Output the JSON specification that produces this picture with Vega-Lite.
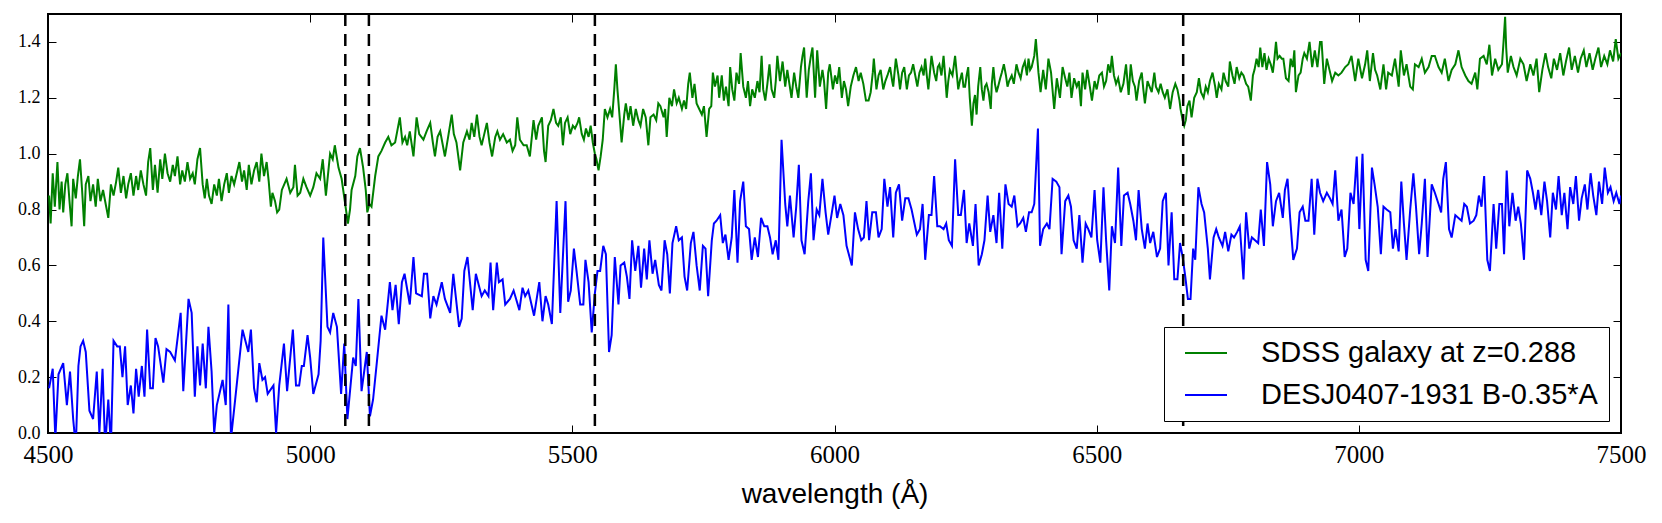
{
  "$schema": "https://vega.github.io/schema/vega-lite/v6.json",
  "width": 1573,
  "height": 419,
  "autosize": {"type": "none"},
  "padding": {"left": 48, "top": 14, "right": 41, "bottom": 90},
  "background": "white",
  "config": {
    "view": {"stroke": "black", "strokeWidth": 2},
    "axis": {"domain": false, "grid": false, "tickColor": "black", "tickWidth": 1, "tickSize": -8, "labelColor": "black", "labelFlush": false, "labelOverlap": false}
  },
  "datasets": {
    "sdss": [
      {"w":4502,"f":0.85},{"w":4505,"f":0.75},{"w":4509,"f":0.93},{"w":4513,"f":0.81},{"w":4518,"f":0.97},{"w":4522,"f":0.80},{"w":4526,"f":0.90},{"w":4529,"f":0.79},{"w":4533,"f":0.89},{"w":4537,"f":0.93},
      {"w":4541,"f":0.83},{"w":4545,"f":0.74},{"w":4548,"f":0.91},{"w":4553,"f":0.84},{"w":4557,"f":0.92},{"w":4561,"f":0.98},{"w":4565,"f":0.87},{"w":4569,"f":0.74},{"w":4572,"f":0.89},{"w":4577,"f":0.92},
      {"w":4581,"f":0.83},{"w":4586,"f":0.89},{"w":4591,"f":0.81},{"w":4595,"f":0.91},{"w":4600,"f":0.83},{"w":4605,"f":0.87},{"w":4611,"f":0.81},{"w":4615,"f":0.77},{"w":4620,"f":0.89},{"w":4625,"f":0.85},
      {"w":4630,"f":0.90},{"w":4634,"f":0.95},{"w":4639,"f":0.86},{"w":4644,"f":0.92},{"w":4649,"f":0.84},{"w":4653,"f":0.89},{"w":4658,"f":0.93},{"w":4663,"f":0.85},{"w":4668,"f":0.92},{"w":4672,"f":0.87},
      {"w":4677,"f":0.94},{"w":4682,"f":0.89},{"w":4687,"f":0.85},{"w":4691,"f":0.97},{"w":4695,"f":1.02},{"w":4700,"f":0.87},{"w":4704,"f":0.96},{"w":4709,"f":0.86},{"w":4714,"f":0.98},{"w":4718,"f":0.91},
      {"w":4723,"f":1.00},{"w":4728,"f":0.93},{"w":4733,"f":0.90},{"w":4738,"f":0.96},{"w":4742,"f":0.92},{"w":4747,"f":0.99},{"w":4752,"f":0.89},{"w":4756,"f":0.94},{"w":4761,"f":0.90},{"w":4766,"f":0.97},
      {"w":4771,"f":0.91},{"w":4776,"f":0.93},{"w":4780,"f":0.89},{"w":4785,"f":0.98},{"w":4790,"f":1.02},{"w":4795,"f":0.89},{"w":4799,"f":0.84},{"w":4803,"f":0.91},{"w":4807,"f":0.85},{"w":4812,"f":0.82},
      {"w":4817,"f":0.89},{"w":4822,"f":0.85},{"w":4826,"f":0.91},{"w":4831,"f":0.83},{"w":4836,"f":0.89},{"w":4841,"f":0.93},{"w":4845,"f":0.86},{"w":4850,"f":0.92},{"w":4855,"f":0.89},{"w":4860,"f":0.93},
      {"w":4865,"f":0.97},{"w":4870,"f":0.90},{"w":4874,"f":0.94},{"w":4879,"f":0.87},{"w":4883,"f":0.96},{"w":4888,"f":0.89},{"w":4893,"f":0.94},{"w":4898,"f":0.97},{"w":4903,"f":0.90},{"w":4907,"f":1.00},
      {"w":4912,"f":0.92},{"w":4917,"f":0.97},{"w":4921,"f":0.90},{"w":4925,"f":0.81},{"w":4928,"f":0.86},{"w":4933,"f":0.83},{"w":4937,"f":0.79},{"w":4941,"f":0.80},{"w":4946,"f":0.87},{"w":4955,"f":0.91},
      {"w":4962,"f":0.86},{"w":4968,"f":0.88},{"w":4971,"f":0.96},{"w":4976,"f":0.85},{"w":4981,"f":0.86},{"w":4987,"f":0.91},{"w":4993,"f":0.88},{"w":5000,"f":0.85},{"w":5006,"f":0.88},{"w":5012,"f":0.93},
      {"w":5019,"f":0.91},{"w":5024,"f":0.98},{"w":5030,"f":0.85},{"w":5038,"f":1.00},{"w":5043,"f":0.98},{"w":5047,"f":1.03},{"w":5054,"f":0.95},{"w":5060,"f":0.91},{"w":5066,"f":0.83},{"w":5072,"f":0.75},
      {"w":5076,"f":0.80},{"w":5079,"f":0.87},{"w":5086,"f":0.92},{"w":5090,"f":0.99},{"w":5095,"f":1.02},{"w":5101,"f":0.95},{"w":5106,"f":0.87},{"w":5109,"f":0.79},{"w":5113,"f":0.82},{"w":5117,"f":0.81},
      {"w":5124,"f":0.92},{"w":5130,"f":0.99},{"w":5136,"f":1.01},{"w":5143,"f":1.04},{"w":5149,"f":1.06},{"w":5155,"f":1.03},{"w":5162,"f":1.04},{"w":5166,"f":1.08},{"w":5171,"f":1.13},{"w":5176,"f":1.04},
      {"w":5181,"f":1.06},{"w":5185,"f":1.03},{"w":5190,"f":1.08},{"w":5197,"f":0.99},{"w":5203,"f":1.13},{"w":5208,"f":1.07},{"w":5216,"f":1.05},{"w":5222,"f":1.08},{"w":5229,"f":1.11},{"w":5234,"f":1.04},
      {"w":5238,"f":0.99},{"w":5243,"f":1.06},{"w":5248,"f":1.08},{"w":5253,"f":1.03},{"w":5257,"f":0.99},{"w":5264,"f":1.07},{"w":5270,"f":1.14},{"w":5274,"f":1.07},{"w":5279,"f":1.04},{"w":5286,"f":0.94},
      {"w":5292,"f":1.04},{"w":5299,"f":1.08},{"w":5304,"f":1.05},{"w":5308,"f":1.11},{"w":5313,"f":1.06},{"w":5318,"f":1.14},{"w":5323,"f":1.06},{"w":5327,"f":1.03},{"w":5332,"f":1.07},{"w":5337,"f":1.11},
      {"w":5342,"f":1.04},{"w":5347,"f":0.99},{"w":5353,"f":1.06},{"w":5357,"f":1.08},{"w":5362,"f":1.05},{"w":5368,"f":1.07},{"w":5375,"f":1.04},{"w":5381,"f":1.05},{"w":5386,"f":1.01},{"w":5391,"f":1.03},
      {"w":5395,"f":1.13},{"w":5400,"f":1.05},{"w":5407,"f":1.03},{"w":5413,"f":1.03},{"w":5419,"f":0.99},{"w":5426,"f":1.12},{"w":5431,"f":1.05},{"w":5435,"f":1.10},{"w":5442,"f":1.13},{"w":5446,"f":1.01},
      {"w":5449,"f":0.97},{"w":5454,"f":1.10},{"w":5459,"f":1.12},{"w":5464,"f":1.16},{"w":5469,"f":1.11},{"w":5473,"f":1.10},{"w":5478,"f":1.13},{"w":5482,"f":1.03},{"w":5486,"f":1.11},{"w":5491,"f":1.13},
      {"w":5496,"f":1.07},{"w":5501,"f":1.10},{"w":5505,"f":1.09},{"w":5510,"f":1.11},{"w":5513,"f":1.13},{"w":5518,"f":1.07},{"w":5522,"f":1.05},{"w":5526,"f":1.09},{"w":5531,"f":1.06},{"w":5535,"f":1.10},
      {"w":5539,"f":1.04},{"w":5543,"f":1.00},{"w":5546,"f":0.98},{"w":5550,"f":0.94},{"w":5554,"f":0.99},{"w":5558,"f":1.05},{"w":5562,"f":1.16},{"w":5567,"f":1.13},{"w":5572,"f":1.16},{"w":5576,"f":1.13},
      {"w":5580,"f":1.23},{"w":5583,"f":1.32},{"w":5586,"f":1.23},{"w":5589,"f":1.16},{"w":5594,"f":1.04},{"w":5599,"f":1.14},{"w":5602,"f":1.18},{"w":5607,"f":1.12},{"w":5611,"f":1.17},{"w":5616,"f":1.10},
      {"w":5621,"f":1.16},{"w":5626,"f":1.12},{"w":5630,"f":1.10},{"w":5635,"f":1.16},{"w":5640,"f":1.13},{"w":5645,"f":1.03},{"w":5649,"f":1.13},{"w":5655,"f":1.14},{"w":5660,"f":1.12},{"w":5664,"f":1.18},
      {"w":5668,"f":1.17},{"w":5674,"f":1.13},{"w":5677,"f":1.16},{"w":5680,"f":1.06},{"w":5685,"f":1.20},{"w":5690,"f":1.17},{"w":5694,"f":1.23},{"w":5699,"f":1.18},{"w":5703,"f":1.20},{"w":5709,"f":1.16},
      {"w":5713,"f":1.19},{"w":5717,"f":1.16},{"w":5721,"f":1.25},{"w":5724,"f":1.29},{"w":5729,"f":1.20},{"w":5733,"f":1.25},{"w":5737,"f":1.18},{"w":5742,"f":1.16},{"w":5747,"f":1.14},{"w":5751,"f":1.17},
      {"w":5756,"f":1.06},{"w":5761,"f":1.16},{"w":5765,"f":1.17},{"w":5768,"f":1.29},{"w":5772,"f":1.24},{"w":5777,"f":1.28},{"w":5780,"f":1.20},{"w":5785,"f":1.28},{"w":5789,"f":1.19},{"w":5793,"f":1.24},
      {"w":5798,"f":1.17},{"w":5801,"f":1.31},{"w":5805,"f":1.23},{"w":5809,"f":1.19},{"w":5813,"f":1.29},{"w":5818,"f":1.25},{"w":5821,"f":1.36},{"w":5826,"f":1.24},{"w":5831,"f":1.20},{"w":5835,"f":1.26},
      {"w":5839,"f":1.17},{"w":5843,"f":1.23},{"w":5848,"f":1.20},{"w":5853,"f":1.26},{"w":5857,"f":1.22},{"w":5861,"f":1.35},{"w":5864,"f":1.23},{"w":5868,"f":1.19},{"w":5872,"f":1.25},{"w":5876,"f":1.32},
      {"w":5880,"f":1.23},{"w":5885,"f":1.20},{"w":5888,"f":1.26},{"w":5891,"f":1.35},{"w":5896,"f":1.26},{"w":5901,"f":1.33},{"w":5906,"f":1.24},{"w":5910,"f":1.30},{"w":5914,"f":1.25},{"w":5918,"f":1.20},
      {"w":5923,"f":1.29},{"w":5927,"f":1.24},{"w":5931,"f":1.20},{"w":5936,"f":1.31},{"w":5939,"f":1.35},{"w":5942,"f":1.38},{"w":5947,"f":1.20},{"w":5951,"f":1.30},{"w":5955,"f":1.35},{"w":5958,"f":1.38},
      {"w":5963,"f":1.20},{"w":5967,"f":1.37},{"w":5972,"f":1.24},{"w":5977,"f":1.30},{"w":5980,"f":1.26},{"w":5984,"f":1.16},{"w":5988,"f":1.29},{"w":5991,"f":1.32},{"w":5997,"f":1.23},{"w":6001,"f":1.28},
      {"w":6005,"f":1.25},{"w":6009,"f":1.31},{"w":6014,"f":1.20},{"w":6018,"f":1.26},{"w":6022,"f":1.23},{"w":6026,"f":1.17},{"w":6031,"f":1.24},{"w":6036,"f":1.28},{"w":6041,"f":1.31},{"w":6046,"f":1.26},
      {"w":6050,"f":1.29},{"w":6055,"f":1.25},{"w":6060,"f":1.19},{"w":6065,"f":1.19},{"w":6069,"f":1.22},{"w":6073,"f":1.29},{"w":6075,"f":1.34},{"w":6080,"f":1.23},{"w":6084,"f":1.28},{"w":6088,"f":1.30},
      {"w":6093,"f":1.23},{"w":6097,"f":1.26},{"w":6101,"f":1.28},{"w":6106,"f":1.31},{"w":6110,"f":1.26},{"w":6112,"f":1.24},{"w":6117,"f":1.34},{"w":6122,"f":1.28},{"w":6125,"f":1.23},{"w":6129,"f":1.29},
      {"w":6133,"f":1.31},{"w":6138,"f":1.23},{"w":6142,"f":1.28},{"w":6146,"f":1.29},{"w":6150,"f":1.32},{"w":6154,"f":1.28},{"w":6158,"f":1.24},{"w":6162,"f":1.29},{"w":6166,"f":1.31},{"w":6170,"f":1.28},
      {"w":6173,"f":1.34},{"w":6176,"f":1.28},{"w":6179,"f":1.23},{"w":6182,"f":1.29},{"w":6185,"f":1.35},{"w":6190,"f":1.29},{"w":6194,"f":1.26},{"w":6197,"f":1.31},{"w":6200,"f":1.32},{"w":6204,"f":1.28},
      {"w":6208,"f":1.35},{"w":6211,"f":1.28},{"w":6214,"f":1.20},{"w":6217,"f":1.26},{"w":6220,"f":1.30},{"w":6225,"f":1.28},{"w":6230,"f":1.35},{"w":6233,"f":1.29},{"w":6236,"f":1.23},{"w":6239,"f":1.26},
      {"w":6243,"f":1.29},{"w":6246,"f":1.24},{"w":6249,"f":1.24},{"w":6252,"f":1.28},{"w":6255,"f":1.31},{"w":6258,"f":1.20},{"w":6262,"f":1.10},{"w":6265,"f":1.18},{"w":6268,"f":1.21},{"w":6271,"f":1.14},
      {"w":6274,"f":1.24},{"w":6278,"f":1.31},{"w":6281,"f":1.23},{"w":6284,"f":1.19},{"w":6287,"f":1.24},{"w":6290,"f":1.25},{"w":6294,"f":1.22},{"w":6298,"f":1.16},{"w":6300,"f":1.25},{"w":6303,"f":1.31},
      {"w":6306,"f":1.25},{"w":6309,"f":1.22},{"w":6312,"f":1.24},{"w":6316,"f":1.27},{"w":6319,"f":1.29},{"w":6323,"f":1.32},{"w":6327,"f":1.28},{"w":6330,"f":1.24},{"w":6333,"f":1.26},{"w":6338,"f":1.28},
      {"w":6342,"f":1.25},{"w":6347,"f":1.32},{"w":6351,"f":1.29},{"w":6355,"f":1.27},{"w":6359,"f":1.31},{"w":6363,"f":1.33},{"w":6367,"f":1.28},{"w":6370,"f":1.34},{"w":6373,"f":1.30},{"w":6376,"f":1.31},
      {"w":6381,"f":1.35},{"w":6384,"f":1.41},{"w":6389,"f":1.29},{"w":6393,"f":1.22},{"w":6398,"f":1.30},{"w":6403,"f":1.23},{"w":6408,"f":1.34},{"w":6413,"f":1.29},{"w":6419,"f":1.16},{"w":6424,"f":1.27},
      {"w":6430,"f":1.20},{"w":6435,"f":1.31},{"w":6440,"f":1.27},{"w":6444,"f":1.24},{"w":6448,"f":1.29},{"w":6452,"f":1.20},{"w":6457,"f":1.27},{"w":6462,"f":1.24},{"w":6466,"f":1.26},{"w":6470,"f":1.17},
      {"w":6473,"f":1.29},{"w":6478,"f":1.23},{"w":6482,"f":1.30},{"w":6487,"f":1.24},{"w":6491,"f":1.19},{"w":6496,"f":1.26},{"w":6500,"f":1.23},{"w":6505,"f":1.28},{"w":6510,"f":1.29},{"w":6514,"f":1.24},
      {"w":6518,"f":1.26},{"w":6522,"f":1.32},{"w":6526,"f":1.29},{"w":6529,"f":1.35},{"w":6533,"f":1.28},{"w":6537,"f":1.25},{"w":6541,"f":1.27},{"w":6546,"f":1.22},{"w":6551,"f":1.25},{"w":6556,"f":1.32},
      {"w":6561,"f":1.21},{"w":6565,"f":1.32},{"w":6569,"f":1.26},{"w":6573,"f":1.24},{"w":6576,"f":1.19},{"w":6581,"f":1.26},{"w":6586,"f":1.29},{"w":6589,"f":1.23},{"w":6592,"f":1.18},{"w":6597,"f":1.26},
      {"w":6601,"f":1.24},{"w":6605,"f":1.22},{"w":6610,"f":1.29},{"w":6613,"f":1.24},{"w":6618,"f":1.22},{"w":6622,"f":1.25},{"w":6626,"f":1.22},{"w":6630,"f":1.20},{"w":6635,"f":1.23},{"w":6640,"f":1.16},
      {"w":6645,"f":1.22},{"w":6650,"f":1.25},{"w":6654,"f":1.23},{"w":6658,"f":1.19},{"w":6660,"f":1.16},{"w":6664,"f":1.12},{"w":6667,"f":1.10},{"w":6670,"f":1.12},{"w":6673,"f":1.17},{"w":6677,"f":1.19},
      {"w":6681,"f":1.13},{"w":6686,"f":1.20},{"w":6691,"f":1.22},{"w":6695,"f":1.27},{"w":6699,"f":1.22},{"w":6704,"f":1.20},{"w":6708,"f":1.24},{"w":6712,"f":1.22},{"w":6716,"f":1.26},{"w":6721,"f":1.29},
      {"w":6726,"f":1.24},{"w":6729,"f":1.20},{"w":6733,"f":1.25},{"w":6738,"f":1.23},{"w":6742,"f":1.29},{"w":6746,"f":1.26},{"w":6751,"f":1.24},{"w":6754,"f":1.33},{"w":6759,"f":1.28},{"w":6763,"f":1.25},
      {"w":6767,"f":1.31},{"w":6772,"f":1.27},{"w":6776,"f":1.29},{"w":6780,"f":1.28},{"w":6785,"f":1.25},{"w":6789,"f":1.24},{"w":6794,"f":1.19},{"w":6798,"f":1.28},{"w":6801,"f":1.30},{"w":6805,"f":1.34},
      {"w":6809,"f":1.31},{"w":6812,"f":1.38},{"w":6816,"f":1.31},{"w":6820,"f":1.36},{"w":6824,"f":1.30},{"w":6828,"f":1.34},{"w":6832,"f":1.32},{"w":6836,"f":1.29},{"w":6839,"f":1.34},{"w":6842,"f":1.40},
      {"w":6845,"f":1.34},{"w":6849,"f":1.35},{"w":6853,"f":1.34},{"w":6856,"f":1.34},{"w":6861,"f":1.27},{"w":6866,"f":1.26},{"w":6870,"f":1.34},{"w":6874,"f":1.31},{"w":6877,"f":1.37},{"w":6880,"f":1.22},
      {"w":6885,"f":1.28},{"w":6889,"f":1.29},{"w":6893,"f":1.34},{"w":6896,"f":1.36},{"w":6901,"f":1.34},{"w":6906,"f":1.40},{"w":6911,"f":1.31},{"w":6916,"f":1.37},{"w":6921,"f":1.31},{"w":6926,"f":1.40},
      {"w":6929,"f":1.40},{"w":6934,"f":1.25},{"w":6939,"f":1.34},{"w":6944,"f":1.30},{"w":6949,"f":1.26},{"w":6955,"f":1.29},{"w":6961,"f":1.28},{"w":6967,"f":1.29},{"w":6974,"f":1.31},{"w":6980,"f":1.32},
      {"w":6986,"f":1.35},{"w":6993,"f":1.26},{"w":6999,"f":1.34},{"w":7006,"f":1.27},{"w":7012,"f":1.32},{"w":7016,"f":1.37},{"w":7021,"f":1.26},{"w":7027,"f":1.36},{"w":7031,"f":1.30},{"w":7035,"f":1.28},
      {"w":7041,"f":1.23},{"w":7047,"f":1.32},{"w":7052,"f":1.23},{"w":7056,"f":1.29},{"w":7063,"f":1.28},{"w":7069,"f":1.34},{"w":7076,"f":1.24},{"w":7080,"f":1.37},{"w":7086,"f":1.28},{"w":7091,"f":1.32},
      {"w":7098,"f":1.24},{"w":7103,"f":1.23},{"w":7107,"f":1.32},{"w":7114,"f":1.31},{"w":7120,"f":1.34},{"w":7126,"f":1.29},{"w":7133,"f":1.31},{"w":7139,"f":1.35},{"w":7145,"f":1.35},{"w":7152,"f":1.31},
      {"w":7158,"f":1.29},{"w":7164,"f":1.34},{"w":7171,"f":1.26},{"w":7177,"f":1.30},{"w":7184,"f":1.32},{"w":7190,"f":1.37},{"w":7196,"f":1.31},{"w":7203,"f":1.28},{"w":7209,"f":1.26},{"w":7215,"f":1.25},
      {"w":7222,"f":1.29},{"w":7226,"f":1.23},{"w":7231,"f":1.34},{"w":7238,"f":1.35},{"w":7244,"f":1.32},{"w":7249,"f":1.39},{"w":7254,"f":1.28},{"w":7260,"f":1.34},{"w":7266,"f":1.30},{"w":7273,"f":1.32},
      {"w":7276,"f":1.40},{"w":7279,"f":1.49},{"w":7281,"f":1.38},{"w":7284,"f":1.29},{"w":7290,"f":1.35},{"w":7295,"f":1.31},{"w":7301,"f":1.28},{"w":7308,"f":1.34},{"w":7314,"f":1.32},{"w":7320,"f":1.26},
      {"w":7327,"f":1.32},{"w":7333,"f":1.28},{"w":7339,"f":1.34},{"w":7344,"f":1.22},{"w":7350,"f":1.30},{"w":7356,"f":1.36},{"w":7361,"f":1.31},{"w":7367,"f":1.27},{"w":7372,"f":1.34},{"w":7378,"f":1.30},
      {"w":7384,"f":1.36},{"w":7390,"f":1.28},{"w":7395,"f":1.33},{"w":7401,"f":1.38},{"w":7406,"f":1.30},{"w":7412,"f":1.35},{"w":7418,"f":1.29},{"w":7423,"f":1.34},{"w":7429,"f":1.37},{"w":7434,"f":1.31},
      {"w":7440,"f":1.36},{"w":7446,"f":1.30},{"w":7451,"f":1.34},{"w":7457,"f":1.38},{"w":7462,"f":1.31},{"w":7468,"f":1.35},{"w":7474,"f":1.32},{"w":7479,"f":1.37},{"w":7485,"f":1.33},{"w":7490,"f":1.41},
      {"w":7495,"f":1.34},{"w":7500,"f":1.36}
    ],
    "des": [
      {"w":4502,"f":0.16},{"w":4509,"f":0.23},{"w":4514,"f":-0.02},{"w":4520,"f":0.21},{"w":4529,"f":0.25},{"w":4536,"f":0.10},{"w":4542,"f":0.22},{"w":4548,"f":0.05},{"w":4553,"f":-0.05},{"w":4558,"f":0.24},
      {"w":4562,"f":0.31},{"w":4567,"f":0.33},{"w":4572,"f":0.29},{"w":4579,"f":0.08},{"w":4586,"f":0.05},{"w":4593,"f":0.22},{"w":4598,"f":0.0},{"w":4604,"f":0.23},{"w":4609,"f":-0.05},{"w":4615,"f":0.12},
      {"w":4620,"f":-0.05},{"w":4625,"f":0.33},{"w":4632,"f":0.31},{"w":4637,"f":0.31},{"w":4642,"f":0.20},{"w":4647,"f":0.31},{"w":4652,"f":0.10},{"w":4658,"f":0.17},{"w":4663,"f":0.07},{"w":4668,"f":0.23},
      {"w":4673,"f":0.13},{"w":4679,"f":0.24},{"w":4684,"f":0.13},{"w":4689,"f":0.37},{"w":4695,"f":0.16},{"w":4700,"f":0.16},{"w":4705,"f":0.34},{"w":4710,"f":0.31},{"w":4720,"f":0.18},{"w":4726,"f":0.30},
      {"w":4733,"f":0.29},{"w":4742,"f":0.26},{"w":4753,"f":0.43},{"w":4758,"f":0.15},{"w":4768,"f":0.48},{"w":4774,"f":0.43},{"w":4780,"f":0.13},{"w":4785,"f":0.31},{"w":4790,"f":0.17},{"w":4795,"f":0.32},
      {"w":4801,"f":0.16},{"w":4806,"f":0.38},{"w":4812,"f":0.22},{"w":4817,"f":0.0},{"w":4822,"f":0.10},{"w":4833,"f":0.19},{"w":4839,"f":0.10},{"w":4844,"f":0.46},{"w":4849,"f":-0.02},{"w":4857,"f":0.12},
      {"w":4871,"f":0.37},{"w":4882,"f":0.29},{"w":4887,"f":0.37},{"w":4893,"f":0.16},{"w":4898,"f":0.11},{"w":4903,"f":0.25},{"w":4909,"f":0.19},{"w":4914,"f":0.20},{"w":4919,"f":0.14},{"w":4930,"f":0.17},
      {"w":4935,"f":0.0},{"w":4941,"f":0.17},{"w":4950,"f":0.32},{"w":4956,"f":0.15},{"w":4967,"f":0.37},{"w":4973,"f":0.17},{"w":4979,"f":0.17},{"w":4984,"f":0.24},{"w":4988,"f":0.24},{"w":4995,"f":0.35},
      {"w":5000,"f":0.27},{"w":5006,"f":0.14},{"w":5016,"f":0.21},{"w":5020,"f":0.33},{"w":5025,"f":0.70},{"w":5033,"f":0.38},{"w":5038,"f":0.36},{"w":5044,"f":0.43},{"w":5051,"f":0.38},{"w":5059,"f":0.14},
      {"w":5065,"f":0.32},{"w":5071,"f":0.05},{"w":5076,"f":0.15},{"w":5082,"f":0.27},{"w":5087,"f":0.24},{"w":5092,"f":0.48},{"w":5098,"f":0.15},{"w":5108,"f":0.29},{"w":5114,"f":0.06},{"w":5120,"f":0.12},
      {"w":5127,"f":0.25},{"w":5136,"f":0.42},{"w":5143,"f":0.37},{"w":5152,"f":0.54},{"w":5157,"f":0.44},{"w":5163,"f":0.53},{"w":5169,"f":0.39},{"w":5175,"f":0.54},{"w":5180,"f":0.57},{"w":5190,"f":0.46},
      {"w":5197,"f":0.63},{"w":5202,"f":0.50},{"w":5213,"f":0.49},{"w":5217,"f":0.57},{"w":5223,"f":0.57},{"w":5229,"f":0.41},{"w":5235,"f":0.49},{"w":5241,"f":0.46},{"w":5251,"f":0.54},{"w":5257,"f":0.48},
      {"w":5267,"f":0.43},{"w":5273,"f":0.57},{"w":5284,"f":0.38},{"w":5289,"f":0.41},{"w":5294,"f":0.58},{"w":5300,"f":0.63},{"w":5310,"f":0.44},{"w":5316,"f":0.57},{"w":5327,"f":0.49},{"w":5333,"f":0.51},
      {"w":5340,"f":0.49},{"w":5344,"f":0.61},{"w":5349,"f":0.44},{"w":5356,"f":0.61},{"w":5360,"f":0.54},{"w":5367,"f":0.55},{"w":5372,"f":0.46},{"w":5381,"f":0.48},{"w":5388,"f":0.51},{"w":5399,"f":0.44},
      {"w":5405,"f":0.52},{"w":5410,"f":0.49},{"w":5416,"f":0.51},{"w":5427,"f":0.42},{"w":5437,"f":0.54},{"w":5443,"f":0.40},{"w":5449,"f":0.49},{"w":5454,"f":0.46},{"w":5461,"f":0.39},{"w":5470,"f":0.83},
      {"w":5477,"f":0.43},{"w":5487,"f":0.83},{"w":5492,"f":0.47},{"w":5497,"f":0.51},{"w":5503,"f":0.66},{"w":5508,"f":0.58},{"w":5515,"f":0.46},{"w":5521,"f":0.46},{"w":5525,"f":0.62},{"w":5531,"f":0.54},
      {"w":5537,"f":0.36},{"w":5543,"f":0.50},{"w":5548,"f":0.58},{"w":5553,"f":0.58},{"w":5559,"f":0.67},{"w":5564,"f":0.64},{"w":5570,"f":0.29},{"w":5575,"f":0.35},{"w":5581,"f":0.63},{"w":5588,"f":0.46},
      {"w":5592,"f":0.60},{"w":5599,"f":0.61},{"w":5604,"f":0.56},{"w":5609,"f":0.48},{"w":5614,"f":0.69},{"w":5620,"f":0.58},{"w":5626,"f":0.67},{"w":5631,"f":0.52},{"w":5637,"f":0.66},{"w":5642,"f":0.55},
      {"w":5647,"f":0.69},{"w":5653,"f":0.57},{"w":5658,"f":0.62},{"w":5665,"f":0.53},{"w":5670,"f":0.51},{"w":5676,"f":0.69},{"w":5681,"f":0.64},{"w":5686,"f":0.50},{"w":5691,"f":0.68},{"w":5698,"f":0.74},
      {"w":5703,"f":0.69},{"w":5709,"f":0.70},{"w":5714,"f":0.56},{"w":5719,"f":0.51},{"w":5726,"f":0.68},{"w":5731,"f":0.72},{"w":5737,"f":0.60},{"w":5743,"f":0.51},{"w":5749,"f":0.67},{"w":5754,"f":0.66},
      {"w":5759,"f":0.49},{"w":5766,"f":0.69},{"w":5770,"f":0.75},{"w":5775,"f":0.76},{"w":5782,"f":0.78},{"w":5787,"f":0.68},{"w":5792,"f":0.71},{"w":5798,"f":0.62},{"w":5804,"f":0.70},{"w":5809,"f":0.87},
      {"w":5815,"f":0.61},{"w":5820,"f":0.83},{"w":5826,"f":0.90},{"w":5831,"f":0.74},{"w":5837,"f":0.73},{"w":5842,"f":0.62},{"w":5848,"f":0.70},{"w":5854,"f":0.63},{"w":5860,"f":0.77},{"w":5866,"f":0.74},
      {"w":5872,"f":0.74},{"w":5877,"f":0.70},{"w":5882,"f":0.64},{"w":5888,"f":0.69},{"w":5893,"f":0.62},{"w":5899,"f":1.05},{"w":5906,"f":0.82},{"w":5910,"f":0.74},{"w":5915,"f":0.85},{"w":5922,"f":0.70},
      {"w":5927,"f":0.81},{"w":5932,"f":0.96},{"w":5937,"f":0.69},{"w":5943,"f":0.64},{"w":5950,"f":0.83},{"w":5955,"f":0.93},{"w":5960,"f":0.69},{"w":5966,"f":0.80},{"w":5971,"f":0.78},{"w":5977,"f":0.91},
      {"w":5983,"f":0.79},{"w":5988,"f":0.71},{"w":5995,"f":0.79},{"w":6000,"f":0.85},{"w":6005,"f":0.77},{"w":6011,"f":0.82},{"w":6017,"f":0.78},{"w":6023,"f":0.67},{"w":6033,"f":0.60},{"w":6039,"f":0.79},
      {"w":6045,"f":0.73},{"w":6051,"f":0.69},{"w":6056,"f":0.70},{"w":6061,"f":0.83},{"w":6066,"f":0.69},{"w":6072,"f":0.79},{"w":6079,"f":0.79},{"w":6084,"f":0.70},{"w":6090,"f":0.73},{"w":6095,"f":0.91},
      {"w":6101,"f":0.81},{"w":6106,"f":0.88},{"w":6112,"f":0.70},{"w":6117,"f":0.86},{"w":6123,"f":0.89},{"w":6129,"f":0.76},{"w":6135,"f":0.84},{"w":6141,"f":0.84},{"w":6147,"f":0.80},{"w":6157,"f":0.71},
      {"w":6163,"f":0.73},{"w":6168,"f":0.82},{"w":6173,"f":0.62},{"w":6180,"f":0.78},{"w":6185,"f":0.78},{"w":6190,"f":0.92},{"w":6196,"f":0.74},{"w":6201,"f":0.74},{"w":6208,"f":0.73},{"w":6213,"f":0.75},
      {"w":6218,"f":0.69},{"w":6224,"f":0.67},{"w":6230,"f":0.98},{"w":6236,"f":0.78},{"w":6241,"f":0.78},{"w":6247,"f":0.87},{"w":6252,"f":0.68},{"w":6257,"f":0.75},{"w":6264,"f":0.67},{"w":6269,"f":0.82},
      {"w":6275,"f":0.60},{"w":6281,"f":0.64},{"w":6286,"f":0.69},{"w":6292,"f":0.85},{"w":6297,"f":0.72},{"w":6303,"f":0.78},{"w":6309,"f":0.68},{"w":6314,"f":0.86},{"w":6320,"f":0.66},{"w":6326,"f":0.89},
      {"w":6332,"f":0.82},{"w":6338,"f":0.81},{"w":6343,"f":0.85},{"w":6349,"f":0.74},{"w":6354,"f":0.75},{"w":6360,"f":0.77},{"w":6365,"f":0.72},{"w":6371,"f":0.79},{"w":6376,"f":0.79},{"w":6381,"f":0.82},
      {"w":6388,"f":1.09},{"w":6392,"f":0.67},{"w":6398,"f":0.73},{"w":6405,"f":0.75},{"w":6410,"f":0.73},{"w":6416,"f":0.91},{"w":6423,"f":0.90},{"w":6429,"f":0.88},{"w":6433,"f":0.64},{"w":6440,"f":0.83},
      {"w":6446,"f":0.85},{"w":6451,"f":0.81},{"w":6456,"f":0.69},{"w":6462,"f":0.66},{"w":6467,"f":0.78},{"w":6473,"f":0.61},{"w":6479,"f":0.75},{"w":6484,"f":0.73},{"w":6490,"f":0.70},{"w":6496,"f":0.87},
      {"w":6501,"f":0.69},{"w":6507,"f":0.61},{"w":6513,"f":0.88},{"w":6518,"f":0.69},{"w":6524,"f":0.51},{"w":6529,"f":0.74},{"w":6535,"f":0.68},{"w":6541,"f":0.95},{"w":6547,"f":0.67},{"w":6552,"f":0.85},
      {"w":6559,"f":0.86},{"w":6564,"f":0.82},{"w":6570,"f":0.76},{"w":6575,"f":0.69},{"w":6580,"f":0.87},{"w":6586,"f":0.73},{"w":6592,"f":0.66},{"w":6597,"f":0.75},{"w":6602,"f":0.68},{"w":6608,"f":0.72},
      {"w":6615,"f":0.63},{"w":6621,"f":0.66},{"w":6626,"f":0.83},{"w":6632,"f":0.86},{"w":6637,"f":0.60},{"w":6643,"f":0.79},{"w":6648,"f":0.55},{"w":6654,"f":0.55},{"w":6659,"f":0.68},{"w":6664,"f":0.63},
      {"w":6669,"f":0.56},{"w":6674,"f":0.48},{"w":6679,"f":0.48},{"w":6684,"f":0.66},{"w":6688,"f":0.62},{"w":6694,"f":0.88},{"w":6700,"f":0.82},{"w":6705,"f":0.79},{"w":6712,"f":0.66},{"w":6716,"f":0.55},
      {"w":6723,"f":0.70},{"w":6728,"f":0.73},{"w":6733,"f":0.70},{"w":6740,"f":0.67},{"w":6745,"f":0.72},{"w":6751,"f":0.65},{"w":6757,"f":0.71},{"w":6762,"f":0.70},{"w":6768,"f":0.72},{"w":6773,"f":0.74},
      {"w":6780,"f":0.55},{"w":6785,"f":0.79},{"w":6791,"f":0.66},{"w":6796,"f":0.70},{"w":6802,"f":0.69},{"w":6808,"f":0.68},{"w":6813,"f":0.80},{"w":6819,"f":0.67},{"w":6825,"f":0.97},{"w":6831,"f":0.89},
      {"w":6836,"f":0.74},{"w":6842,"f":0.83},{"w":6848,"f":0.86},{"w":6855,"f":0.77},{"w":6859,"f":0.87},{"w":6864,"f":0.91},{"w":6869,"f":0.77},{"w":6875,"f":0.62},{"w":6882,"f":0.66},{"w":6887,"f":0.79},
      {"w":6893,"f":0.81},{"w":6898,"f":0.76},{"w":6904,"f":0.76},{"w":6910,"f":0.91},{"w":6915,"f":0.71},{"w":6921,"f":0.91},{"w":6926,"f":0.86},{"w":6932,"f":0.83},{"w":6939,"f":0.86},{"w":6945,"f":0.84},
      {"w":6950,"f":0.82},{"w":6955,"f":0.94},{"w":6961,"f":0.76},{"w":6967,"f":0.80},{"w":6973,"f":0.63},{"w":6978,"f":0.66},{"w":6984,"f":0.86},{"w":6990,"f":0.82},{"w":6996,"f":0.99},{"w":7001,"f":0.73},
      {"w":7007,"f":1.00},{"w":7013,"f":0.62},{"w":7018,"f":0.58},{"w":7025,"f":0.95},{"w":7030,"f":0.89},{"w":7036,"f":0.81},{"w":7042,"f":0.64},{"w":7047,"f":0.81},{"w":7053,"f":0.80},{"w":7060,"f":0.79},
      {"w":7065,"f":0.66},{"w":7070,"f":0.73},{"w":7076,"f":0.65},{"w":7081,"f":0.90},{"w":7086,"f":0.75},{"w":7091,"f":0.62},{"w":7098,"f":0.80},{"w":7104,"f":0.93},{"w":7109,"f":0.81},{"w":7115,"f":0.64},
      {"w":7120,"f":0.75},{"w":7126,"f":0.91},{"w":7131,"f":0.63},{"w":7139,"f":0.89},{"w":7145,"f":0.86},{"w":7152,"f":0.82},{"w":7157,"f":0.79},{"w":7161,"f":0.91},{"w":7166,"f":0.97},{"w":7172,"f":0.73},
      {"w":7177,"f":0.70},{"w":7184,"f":0.78},{"w":7190,"f":0.77},{"w":7196,"f":0.76},{"w":7201,"f":0.82},{"w":7206,"f":0.81},{"w":7212,"f":0.75},{"w":7219,"f":0.76},{"w":7224,"f":0.78},{"w":7229,"f":0.85},
      {"w":7234,"f":0.81},{"w":7239,"f":0.92},{"w":7245,"f":0.62},{"w":7250,"f":0.58},{"w":7257,"f":0.82},{"w":7262,"f":0.66},{"w":7268,"f":0.82},{"w":7273,"f":0.82},{"w":7277,"f":0.64},{"w":7282,"f":0.94},
      {"w":7287,"f":0.74},{"w":7293,"f":0.86},{"w":7299,"f":0.76},{"w":7304,"f":0.81},{"w":7309,"f":0.75},{"w":7315,"f":0.62},{"w":7321,"f":0.94},{"w":7327,"f":0.91},{"w":7332,"f":0.86},{"w":7337,"f":0.80},
      {"w":7342,"f":0.87},{"w":7348,"f":0.78},{"w":7354,"f":0.90},{"w":7359,"f":0.83},{"w":7365,"f":0.70},{"w":7370,"f":0.86},{"w":7376,"f":0.80},{"w":7381,"f":0.92},{"w":7387,"f":0.78},{"w":7392,"f":0.86},
      {"w":7398,"f":0.73},{"w":7403,"f":0.88},{"w":7409,"f":0.82},{"w":7414,"f":0.92},{"w":7420,"f":0.76},{"w":7425,"f":0.84},{"w":7431,"f":0.89},{"w":7436,"f":0.80},{"w":7442,"f":0.93},{"w":7447,"f":0.85},
      {"w":7453,"f":0.78},{"w":7458,"f":0.90},{"w":7464,"f":0.82},{"w":7469,"f":0.95},{"w":7475,"f":0.86},{"w":7480,"f":0.88},{"w":7486,"f":0.83},{"w":7491,"f":0.86},{"w":7497,"f":0.82},{"w":7500,"f":0.85}
    ],
    "lines": [{"w":5067},{"w":5112},{"w":5543},{"w":6665}]
  },
  "resolve": {"axis": {"x": "independent", "y": "independent"}},
  "layer": [
    {
      "data": {"name": "sdss"},
      "mark": {"type": "line", "strokeWidth": 2, "clip": true},
      "encoding": {
        "x": {
          "field": "w", "type": "quantitative",
          "scale": {"domain": [4500, 7500], "nice": false, "zero": false},
          "axis": {
            "values": [4500, 5000, 5500, 6000, 6500, 7000, 7500],
            "format": "d",
            "labelFont": "Liberation Serif", "labelFontSize": 25, "labelPadding": 17,
            "title": "wavelength (Å)",
            "titleFont": "Liberation Sans", "titleFontSize": 28, "titleFontWeight": "normal", "titleColor": "black",
            "titleY": 69, "titleBaseline": "alphabetic"
          }
        },
        "y": {
          "field": "f", "type": "quantitative",
          "scale": {"domain": [0, 1.5], "nice": false, "zero": false},
          "axis": {
            "values": [0, 0.2, 0.4, 0.6, 0.8, 1.0, 1.2, 1.4],
            "format": ".1f",
            "labelFont": "Liberation Serif", "labelFontSize": 18, "labelPadding": 16,
            "title": null
          }
        },
        "color": {
          "datum": "SDSS galaxy at z=0.288",
          "scale": {"domain": ["SDSS galaxy at z=0.288", "DESJ0407-1931 B-0.35*A"], "range": ["#008000", "#0000ff"]},
          "legend": {
            "title": null,
            "orient": "none", "legendX": 1116, "legendY": 313,
            "fillColor": "white", "strokeColor": "black", "cornerRadius": 0,
            "padding": 11,
            "symbolType": "M-1.5,0H1.5", "symbolSize": 784, "symbolStrokeWidth": 2, "symbolOffset": 16,
            "labelFont": "Liberation Sans", "labelFontSize": 29, "labelColor": "black", "labelOffset": 40, "labelLimit": 600,
            "rowPadding": 12
          }
        }
      }
    },
    {
      "data": {"name": "des"},
      "mark": {"type": "line", "strokeWidth": 2, "clip": true},
      "encoding": {
        "x": {"field": "w", "type": "quantitative", "axis": null},
        "y": {
          "field": "f", "type": "quantitative",
          "axis": {"orient": "right", "values": [0, 0.2, 0.4, 0.6, 0.8, 1.0, 1.2, 1.4], "labels": false, "title": null}
        },
        "color": {"datum": "DESJ0407-1931 B-0.35*A"}
      }
    },
    {
      "data": {"name": "lines"},
      "mark": {"type": "rule", "color": "black", "strokeWidth": 2.5, "strokeDash": [12, 8]},
      "encoding": {
        "x": {
          "field": "w", "type": "quantitative",
          "axis": {"orient": "top", "values": [4500, 5000, 5500, 6000, 6500, 7000, 7500], "labels": false, "title": null}
        }
      }
    }
  ]
}
